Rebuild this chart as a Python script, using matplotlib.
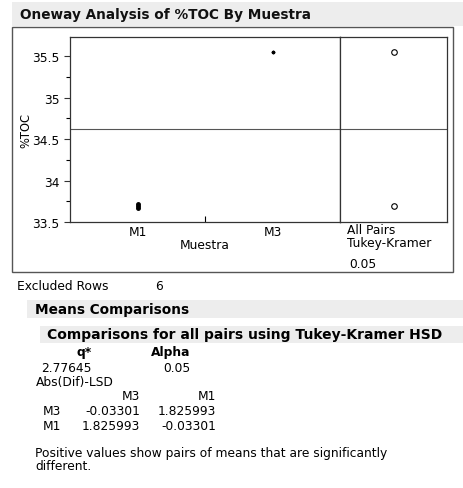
import matplotlib
matplotlib.use("Agg")
import matplotlib.pyplot as plt
from matplotlib.patches import Rectangle
from matplotlib.ticker import MultipleLocator

groups = ["M1", "M3"]
m1_values = [33.67, 33.69, 33.72]
m3_values = [35.55, 35.55, 35.55]
group_means = [33.693, 35.55]
grand_mean = 34.62
y_ticks = [33.5, 34, 34.5, 35, 35.5]
y_tick_labels = ["33.5", "34", "34.5", "35", "35.5"]

q_star = "2.77645"
alpha = "0.05"
lsd_cols = ["M3", "M1"]
lsd_rows = [["M3", "-0.03301", "1.825993"],
            ["M1", "1.825993", "-0.03301"]]
excluded_rows = "6"

W, H = 463, 489
fig = plt.figure(figsize=(W / 100, H / 100), dpi=100)
fig.patch.set_facecolor("white")
plt.rcParams["font.family"] = "DejaVu Sans"
FS = 8.8


def fx(x):
    return x / W


def fy(y):
    return 1 - y / H


def box(x0, y0, x1, y1, **kw):
    fig.add_artist(Rectangle((fx(x0), fy(y1)), fx(x1) - fx(x0), fy(y0) - fy(y1),
                             transform=fig.transFigure, **kw))


def txt(x, y, s, **kw):
    kw.setdefault("fontsize", FS)
    fig.text(fx(x), fy(y), s, va="center", **kw)


# title bar + outer frame
box(12, 3, 463, 27, facecolor="#ededed", edgecolor="none")
txt(20, 15, "Oneway Analysis of %TOC By Muestra", fontsize=9.8, weight="bold", color="#111111")
box(12, 28, 453, 273, facecolor="none", edgecolor="#555555", linewidth=1)

# main scatter panel
ax = fig.add_axes([fx(70), fy(223), fx(340) - fx(70), fy(38) - fy(223)])
ax.set_xlim(0.5, 2.5)
ax.set_ylim(33.5, 35.73)
ax.axhline(grand_mean, color="#555555", linewidth=0.8)
ax.plot([1] * len(m1_values), m1_values, "o", color="black", markersize=2.5)
ax.plot([2] * len(m3_values), m3_values, "o", color="black", markersize=1.5)
ax.set_yticks(y_ticks)
ax.set_yticklabels(y_tick_labels)
ax.yaxis.set_minor_locator(MultipleLocator(0.25))
ax.set_xticks([1, 2])
ax.set_xticklabels(groups)
ax.set_xticks([1.5], minor=True)
ax.tick_params(axis="both", labelsize=FS, length=4, width=0.8, colors="#333333", labelcolor="black")
ax.tick_params(axis="y", which="minor", length=3, width=0.8)
ax.tick_params(axis="x", which="minor", length=4, width=0.8, direction="in")
ax.tick_params(axis="x", which="major", length=0, pad=2)
ax.set_ylabel("%TOC", fontsize=FS - 0.5, labelpad=0)
ax.set_xlabel("Muestra", fontsize=FS, labelpad=0)
for s in ax.spines.values():
    s.set_color("#333333")
    s.set_linewidth(0.9)

# comparison circles panel
ax2 = fig.add_axes([fx(340), fy(223), fx(447) - fx(340), fy(38) - fy(223)])
ax2.set_xlim(0, 1)
ax2.set_ylim(33.5, 35.73)
ax2.axhline(grand_mean, color="#555555", linewidth=0.8)
ax2.plot([0.5] * len(group_means), group_means, "o", markerfacecolor="none",
         markeredgecolor="black", markersize=4, markeredgewidth=0.8)
ax2.set_xticks([])
ax2.set_yticks([])
for s in ax2.spines.values():
    s.set_color("#333333")
    s.set_linewidth(0.9)
txt(347, 231, "All Pairs")
txt(347, 244, "Tukey-Kramer")
txt(349, 265, alpha)

# report below the plot
txt(17, 287, "Excluded Rows")
txt(155, 287, excluded_rows)

box(27, 301, 463, 319, facecolor="#ededed", edgecolor="none")
txt(35, 310, "Means Comparisons", fontsize=9.8, weight="bold")
box(40, 327, 463, 344, facecolor="#ededed", edgecolor="none")
txt(47, 335, "Comparisons for all pairs using Tukey-Kramer HSD", fontsize=10, weight="bold")

txt(92, 353, "q*", weight="bold", ha="right")
txt(190, 353, "Alpha", weight="bold", ha="right")
txt(92, 368, q_star, ha="right")
txt(190, 368, alpha, ha="right")
txt(36, 383, "Abs(Dif)-LSD")

col_x = [140, 216]
for cx, c in zip(col_x, lsd_cols):
    txt(cx, 397, c, ha="right")
for i, row in enumerate(lsd_rows):
    yy = 412 + i * 15
    txt(43, yy, row[0])
    for cx, v in zip(col_x, row[1:]):
        txt(cx, yy, v, ha="right")

txt(35, 454, "Positive values show pairs of means that are significantly")
txt(35, 467, "different.")

fig.savefig("out.png", dpi=100)
